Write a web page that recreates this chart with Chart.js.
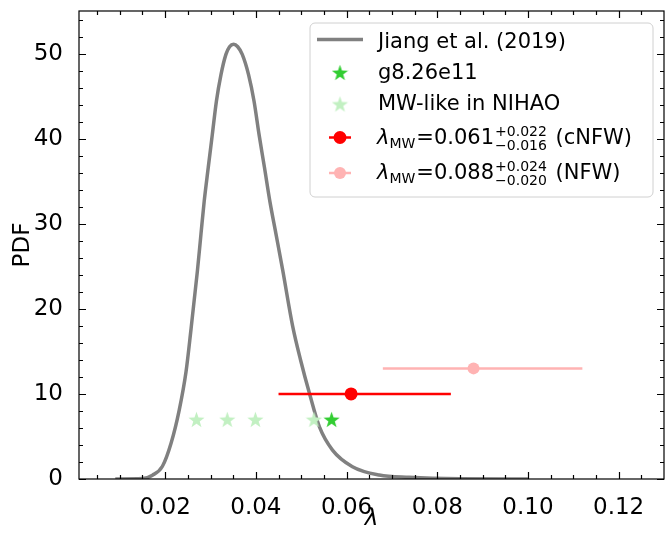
<!DOCTYPE html>
<html>
<head>
<meta charset="utf-8">
<script src="https://cdn.jsdelivr.net/npm/chart.js@4.4.0/dist/chart.umd.min.js"></script>
<style>
  html, body { margin: 0; padding: 0; background: #fff; }
  #wrap { width: 671px; height: 533px; }
</style>
</head>
<body>
<div id="wrap"><canvas id="chart" width="671" height="533"></canvas></div>
<script>
// Jiang et al. (2019) spin PDF
const curveX = [0.009, 0.015, 0.0172, 0.0194, 0.0213, 0.0231, 0.0246, 0.0257, 0.0271, 0.0279, 0.0286, 0.0295,
                0.0304, 0.0313, 0.0323, 0.0334, 0.0342, 0.0351, 0.036, 0.037, 0.0384, 0.0396, 0.0407, 0.0419,
                0.0431, 0.0444, 0.0459, 0.0481, 0.0499, 0.0518, 0.054, 0.0569, 0.0613, 0.0672, 0.0738, 0.085, 0.1];
const curveY = [0, 0.05, 0.45, 1.5, 4.2, 8.1, 12.6, 17.6, 24.4, 28.8, 32.6, 36.6,
                40.5, 44.4, 47.5, 49.9, 50.8, 51.1, 50.8, 49.9, 47.5, 44.4, 40.5, 36.6,
                32.6, 28.9, 24.6, 18.0, 13.9, 10.1, 6.15, 3.4, 1.45, 0.47, 0.2, 0.03, 0];

// MW-like haloes in NIHAO and g8.26e11
const nihaoX = [0.0269, 0.0337, 0.0399, 0.0528];
const nihaoY = [7, 7, 7, 7];
const g826X = [0.0567];
const g826Y = [7];

// lambda_MW estimates: value, lower, upper, y position
const cnfw = { val: 0.061, lo: 0.045, hi: 0.083, y: 10 };
const nfw = { val: 0.088, lo: 0.068, hi: 0.112, y: 13 };

const xTicks = [0.02, 0.04, 0.06, 0.08, 0.10, 0.12];
const yTicks = [0, 10, 20, 30, 40, 50];

const FONT = "'DejaVu Sans', sans-serif";
const GREEN = 'rgb(50,205,50)';
const LIGHTGREEN = 'rgb(194,240,194)';
const RED = 'rgb(255,0,0)';
const PINK = 'rgb(255,179,179)';

// filled five-point star as a point image
function makeStar(color, size) {
    const c = document.createElement('canvas');
    c.width = size; c.height = size;
    const g = c.getContext('2d');
    const cx = size / 2, cy = size / 2 + size * 0.05;
    const R = size / 2, r = R * 0.4;
    g.beginPath();
    for (let i = 0; i < 10; i++) {
        const rad = i % 2 === 0 ? R : r;
        const a = -Math.PI / 2 + i * Math.PI / 5;
        const px = cx + rad * Math.cos(a), py = cy + rad * Math.sin(a);
        if (i === 0) g.moveTo(px, py); else g.lineTo(px, py);
    }
    g.closePath();
    g.fillStyle = color;
    g.fill();
    return c;
}
const starLight = makeStar(LIGHTGREEN, 17);
const starGreen = makeStar(GREEN, 17);

const toPts = (xs, ys) => xs.map((x, i) => ({ x: x, y: ys[i] }));

// inward ticks on all four sides plus the frame
const frameTicks = {
    id: 'frameTicks',
    afterDraw(chart) {
        const ctx = chart.ctx, a = chart.chartArea;
        const xs = chart.scales.x, ys = chart.scales.y;
        ctx.save();
        ctx.strokeStyle = '#000';
        ctx.lineWidth = 1.2;
        ctx.strokeRect(a.left, a.top, a.right - a.left, a.bottom - a.top);
        ctx.beginPath();
        for (let v = 0.005; v < xs.max; v += 0.005) {
            const px = Math.round(xs.getPixelForValue(v)) + 0.5;
            if (px <= a.left || px >= a.right) continue;
            const major = xTicks.some(t => Math.abs(t - v) < 1e-6);
            const len = major ? 7 : 4;
            ctx.moveTo(px, a.bottom); ctx.lineTo(px, a.bottom - len);
            ctx.moveTo(px, a.top); ctx.lineTo(px, a.top + len);
        }
        for (let v = 0; v < ys.max; v += 2) {
            const py = Math.round(ys.getPixelForValue(v)) + 0.5;
            const len = v % 10 === 0 ? 7 : 4;
            ctx.moveTo(a.left, py); ctx.lineTo(a.left + len, py);
            ctx.moveTo(a.right, py); ctx.lineTo(a.right - len, py);
        }
        ctx.stroke();

        // axis titles
        ctx.fillStyle = '#000';
        ctx.font = 'italic 23px ' + FONT;
        ctx.textAlign = 'center';
        ctx.textBaseline = 'middle';
        ctx.fillText('\u03bb', (a.left + a.right) / 2, 519);
        ctx.save();
        ctx.translate(23, (a.top + a.bottom) / 2);
        ctx.rotate(-Math.PI / 2);
        ctx.font = '23px ' + FONT;
        ctx.fillText('PDF', 0, 0);
        ctx.restore();
        ctx.restore();
    }
};

// legend with math text, drawn by hand
const mathLegend = {
    id: 'mathLegend',
    afterDraw(chart) {
        const ctx = chart.ctx;
        ctx.save();
        const bx = 310, by = 23, bw = 343, bh = 174, rr = 5;
        ctx.beginPath();
        ctx.moveTo(bx + rr, by);
        ctx.arcTo(bx + bw, by, bx + bw, by + bh, rr);
        ctx.arcTo(bx + bw, by + bh, bx, by + bh, rr);
        ctx.arcTo(bx, by + bh, bx, by, rr);
        ctx.arcTo(bx, by, bx + bw, by, rr);
        ctx.closePath();
        ctx.fillStyle = 'rgba(255,255,255,0.8)';
        ctx.fill();
        ctx.strokeStyle = '#d0d0d0';
        ctx.lineWidth = 1;
        ctx.stroke();

        const hx = 340, tx = 378;
        // row 1: line
        ctx.strokeStyle = '#808080';
        ctx.lineWidth = 3.5;
        ctx.beginPath(); ctx.moveTo(317, 39.5); ctx.lineTo(363, 39.5); ctx.stroke();
        // rows 2,3: stars
        ctx.drawImage(starGreen, hx - 8.5, 72.5 - 8.5);
        ctx.drawImage(starLight, hx - 8.5, 104 - 8.5);
        // rows 4,5: error bars
        const bar = (y, col, r) => {
            ctx.strokeStyle = col; ctx.lineWidth = 2.5;
            ctx.beginPath(); ctx.moveTo(329, y); ctx.lineTo(351, y); ctx.stroke();
            ctx.fillStyle = col;
            ctx.beginPath(); ctx.arc(hx, y, r, 0, Math.PI * 2); ctx.fill();
        };
        bar(137.5, RED, 6.5);
        bar(173, PINK, 6);

        ctx.fillStyle = '#000';
        ctx.textAlign = 'left';
        ctx.textBaseline = 'alphabetic';
        ctx.font = '21px ' + FONT;
        ctx.fillText('Jiang et al. (2019)', tx, 48);
        ctx.fillText('g8.26e11', tx, 78.5);
        ctx.fillText('MW-like in NIHAO', tx, 109.5);

        const mathRow = (base, val, up, dn, tag) => {
            let x = tx - 1;
            ctx.font = 'italic 21px ' + FONT;
            ctx.fillText('\u03bb', x, base);
            x += ctx.measureText('\u03bb').width;
            ctx.font = '14px ' + FONT;
            ctx.fillText('MW', x, base + 4);
            x += ctx.measureText('MW').width + 1;
            ctx.font = '21px ' + FONT;
            ctx.fillText('=' + val, x, base);
            x += ctx.measureText('=' + val).width + 1;
            ctx.font = '14px ' + FONT;
            ctx.fillText('+' + up, x, base - 8);
            ctx.fillText('\u2212' + dn, x, base + 6);
            x += Math.max(ctx.measureText('+' + up).width, ctx.measureText('\u2212' + dn).width);
            ctx.font = '21px ' + FONT;
            ctx.fillText(' ' + tag, x + 2, base);
        };
        mathRow(143.5, '0.061', '0.022', '0.016', '(cNFW)');
        mathRow(178.5, '0.088', '0.024', '0.020', '(NFW)');
        ctx.restore();
    }
};

new Chart(document.getElementById('chart'), {
    type: 'scatter',
    data: {
        datasets: [
            {
                type: 'line', label: 'Jiang et al. (2019)', data: toPts(curveX, curveY),
                borderColor: '#808080', borderWidth: 3.5, pointRadius: 0,
                cubicInterpolationMode: 'monotone', fill: false, order: 10
            },
            {
                label: 'MW-like in NIHAO', data: toPts(nihaoX, nihaoY),
                pointStyle: starLight, order: 5
            },
            {
                label: 'g8.26e11', data: toPts(g826X, g826Y),
                pointStyle: starGreen, order: 4
            },
            {
                type: 'line', label: 'cNFW bar', data: [{ x: cnfw.lo, y: cnfw.y }, { x: cnfw.hi, y: cnfw.y }],
                borderColor: RED, borderWidth: 2.5, pointRadius: 0, order: 2
            },
            {
                label: 'cNFW', data: [{ x: cnfw.val, y: cnfw.y }],
                pointRadius: 6.5, backgroundColor: RED, borderWidth: 0, order: 1
            },
            {
                type: 'line', label: 'NFW bar', data: [{ x: nfw.lo, y: nfw.y }, { x: nfw.hi, y: nfw.y }],
                borderColor: PINK, borderWidth: 2.5, pointRadius: 0, order: 2
            },
            {
                label: 'NFW', data: [{ x: nfw.val, y: nfw.y }],
                pointRadius: 6, backgroundColor: PINK, borderWidth: 0, order: 1
            }
        ]
    },
    options: {
        responsive: false,
        animation: false,
        layout: { padding: { left: 0, right: 7, top: 11, bottom: 0 } },
        plugins: { legend: { display: false }, tooltip: { enabled: false } },
        scales: {
            x: {
                type: 'linear', min: 0.001, max: 0.13,
                grid: { display: false },
                border: { display: false },
                afterBuildTicks: s => { s.ticks = xTicks.map(v => ({ value: v })); },
                afterFit: s => { s.height = 54; s.paddingLeft = 0; s.paddingRight = 0; },
                ticks: {
                    color: '#000', padding: 7, maxRotation: 0,
                    font: { family: FONT, size: 23 },
                    callback: v => v.toFixed(2)
                }
            },
            y: {
                type: 'linear', min: 0, max: 55,
                grid: { display: false },
                border: { display: false },
                afterBuildTicks: s => { s.ticks = yTicks.map(v => ({ value: v })); },
                afterFit: s => { s.width = 79; s.paddingTop = 0; s.paddingBottom = 0; },
                ticks: {
                    color: '#000', padding: 8,
                    font: { family: FONT, size: 23 }
                }
            }
        }
    },
    plugins: [frameTicks, mathLegend]
});
</script>
</body>
</html>
